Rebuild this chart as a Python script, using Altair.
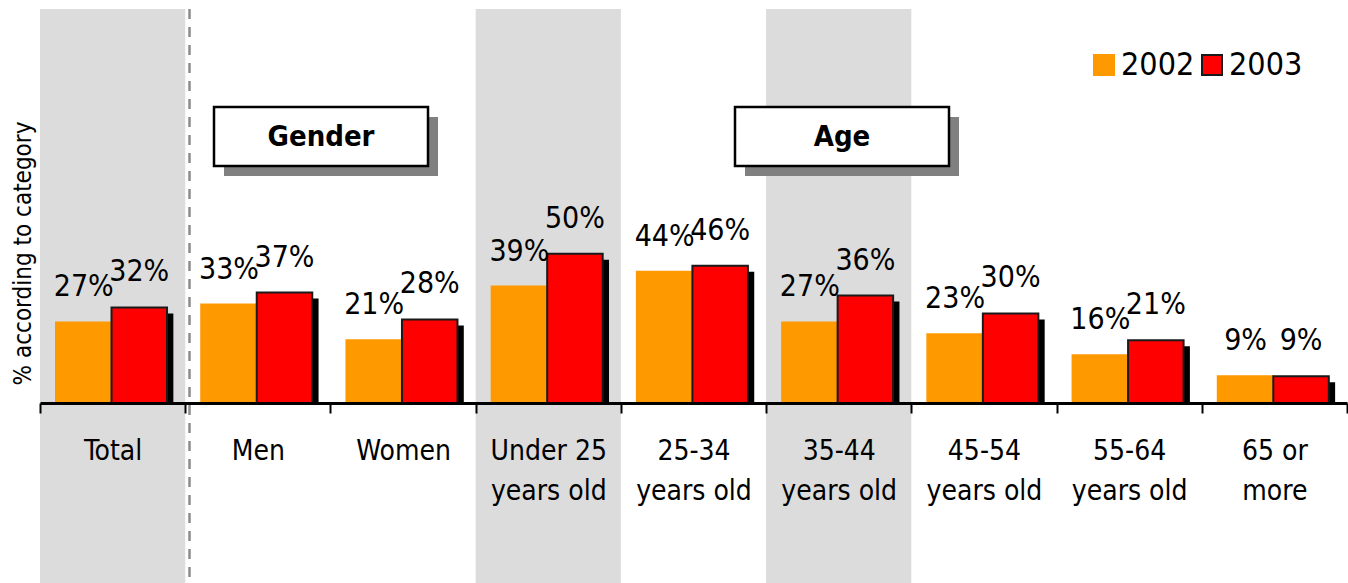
import altair as alt
import pandas as pd

# Share of respondents per category, two survey years
categories = ["Total", "Men", "Women", "Under 25|years old", "25-34|years old",
              "35-44|years old", "45-54|years old", "55-64|years old", "65 or|more"]
share_2002 = [27, 33, 21, 39, 44, 27, 23, 16, 9]
share_2003 = [32, 37, 28, 50, 46, 36, 30, 21, 9]
years = ["2002", "2003"]
shaded = ["Total", "Under 25|years old", "35-44|years old"]

FONT = "DejaVu Sans Condensed, Liberation Sans, sans-serif"

rows = []
for year, values in zip(years, [share_2002, share_2003]):
    for cat, v in zip(categories, values):
        rows.append({"cat": cat, "year": year, "value": v})
df = pd.DataFrame(rows)

x_enc = alt.X(
    "cat:N",
    sort=categories,
    scale=alt.Scale(domain=categories, paddingInner=0, paddingOuter=0),
    axis=alt.Axis(
        title=None, labelAngle=0, grid=False, zindex=1,
        domainColor="black", domainWidth=3,
        tickColor="black", tickWidth=2, tickSize=10, tickBand="extent",
        labelFont=FONT, labelFontSize=28, labelColor="black",
        labelLineHeight=40, labelPadding=24,
        labelExpr="split(datum.label, '|')",
    ),
)
xoff_enc = alt.XOffset(
    "year:N", scale=alt.Scale(domain=years, paddingOuter=0.308, paddingInner=0, align=0.468)
)
y_enc = alt.Y(
    "value:Q",
    scale=alt.Scale(domain=[0, 132], nice=False, zero=True),
    axis=alt.Axis(
        title="% according to category", domain=False, ticks=False, labels=False, grid=False,
        titleFont=FONT, titleFontSize=24, titleFontWeight="normal", titleColor="black",
        titleAngle=270, titleX=-17, titleY=244, titleAlign="center", titleBaseline="middle",
    ),
)

fill_scale = alt.Scale(domain=years, range=["#FF9900", "#FF0000"])
stroke_scale = alt.Scale(domain=years, range=["#FF9900", "#1A1A1A"])
legend = alt.Legend(
    title=None, orient="none", legendX=1048, legendY=40, direction="horizontal",
    symbolType="square", symbolSize=400, symbolStrokeWidth=2,
    labelFont=FONT, labelFontSize=32, labelColor="black",
    labelOffset=1, columnPadding=1, padding=0,
)

# shaded category columns running the full height
bands = alt.Chart(pd.DataFrame({"cat": shaded})).mark_rect(color="#DCDCDC").encode(
    x=x_enc, y=alt.value(0), y2=alt.value(574)
)

# dashed separator between Total and the breakdowns
separator = alt.Chart(pd.DataFrame({"k": [0]})).mark_rule(
    color="#8C8C8C", strokeWidth=2.5, strokeDash=[10, 8]
).encode(x=alt.value(149.5), y=alt.value(0), y2=alt.value(574))

base = alt.Chart(df)

# drop shadow behind the 2003 bars: same slot as the 2003 bar, nudged right and down,
# its foot kept on the baseline
shadow = base.transform_filter(alt.datum.year == "2003").mark_bar(
    color="black", width=alt.RelativeBandSize(0.382), xOffset=33, yOffset=6
).encode(x=x_enc, y=y_enc, y2=alt.Y2(datum=0))

bars = base.mark_bar(strokeWidth=2).encode(
    x=x_enc, xOffset=xoff_enc, y=y_enc,
    fill=alt.Fill("year:N", scale=fill_scale, legend=legend),
    stroke=alt.Stroke("year:N", scale=stroke_scale, legend=legend),
)

labels = base.transform_calculate(label="datum.value + '%'").mark_text(
    baseline="bottom", dy=-20, font=FONT, fontSize=30, color="black"
).encode(x=x_enc, xOffset=xoff_enc, y=y_enc, text="label:N")


def group_box(label, left, right, top, bottom):
    src = alt.Chart(pd.DataFrame({"label": [label]}))
    drop = src.mark_rect(color="#808080").encode(
        x=alt.value(left + 10), x2=alt.value(right + 10),
        y=alt.value(top + 10), y2=alt.value(bottom + 10),
    )
    box = src.mark_rect(fill="white", stroke="black", strokeWidth=2.5).encode(
        x=alt.value(left), x2=alt.value(right), y=alt.value(top), y2=alt.value(bottom),
    )
    text = src.mark_text(
        font=FONT, fontSize=29, fontWeight="bold", color="black", baseline="middle"
    ).encode(x=alt.value((left + right) / 2), y=alt.value((top + bottom) / 2), text="label:N")
    return drop + box + text


gender = group_box("Gender", 174, 388, 98, 157)
age = group_box("Age", 695, 909, 98, 157)

chart = alt.layer(bands, separator, shadow, bars, labels, gender, age).properties(
    width=1307, height=394,
    padding={"left": 40, "top": 9, "right": 1, "bottom": 180},
    autosize=alt.AutoSizeParams(type="none"),
    background="white",
).configure_view(stroke=None)

chart.save("out.html", embed_options={"renderer": "svg", "actions": False})
